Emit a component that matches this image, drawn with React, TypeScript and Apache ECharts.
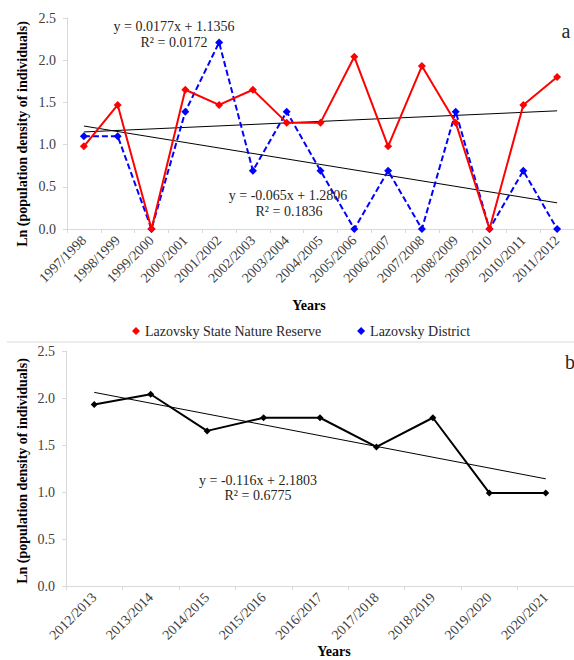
import React, { useEffect, useRef } from "react";
import * as echarts from "echarts";

const yearsA = [
  "1997/1998", "1998/1999", "1999/2000", "2000/2001", "2001/2002",
  "2002/2003", "2003/2004", "2004/2005", "2005/2006", "2006/2007",
  "2007/2008", "2008/2009", "2009/2010", "2010/2011", "2011/2012",
];
const reserve = [0.98, 1.47, 0, 1.65, 1.47, 1.65, 1.26, 1.26, 2.04, 0.98, 1.93, 1.26, 0, 1.47, 1.8];
const district = [1.1, 1.1, 0, 1.39, 2.21, 0.69, 1.39, 0.69, 0, 0.69, 0, 1.39, 0, 0.69, 0];
const trendReserve = [1.15, 1.4];
const trendDistrict = [1.22, 0.31];

const yearsB = [
  "2012/2013", "2013/2014", "2014/2015", "2015/2016", "2016/2017",
  "2017/2018", "2018/2019", "2019/2020", "2020/2021",
];
const densityB = [1.93, 2.04, 1.65, 1.79, 1.79, 1.48, 1.79, 0.99, 0.99];
const trendB = [2.06, 1.14];

const yTicks = [0, 0.5, 1, 1.5, 2, 2.5];

const FONT = '"Liberation Serif", "Times New Roman", serif';
const AXIS_GRAY = "#d9d9d9";
const LABEL = "#404040";

function makeY(gridIndex: number) {
  return {
    type: "value",
    gridIndex,
    min: yTicks[0],
    max: yTicks[yTicks.length - 1],
    interval: 0.5,
    axisLine: { show: true, lineStyle: { color: AXIS_GRAY, width: 1 } },
    axisTick: { show: true, length: 4, lineStyle: { color: AXIS_GRAY } },
    splitLine: { show: false },
    axisLabel: {
      fontFamily: FONT,
      fontSize: 14,
      color: LABEL,
      margin: 11,
      formatter: (v: number) => v.toFixed(1),
    },
  };
}

function makeX(gridIndex: number, data: string[]) {
  return {
    type: "category",
    gridIndex,
    data,
    boundaryGap: true,
    axisLine: { show: true, lineStyle: { color: AXIS_GRAY, width: 1 } },
    axisTick: { show: true, length: 4, alignWithLabel: false, lineStyle: { color: AXIS_GRAY } },
    splitLine: { show: false },
    axisLabel: {
      interval: 0,
      rotate: 45,
      fontFamily: FONT,
      fontSize: 14,
      color: LABEL,
      margin: 9,
    },
  };
}

function text(x: number, y: number, t: string, opts: any = {}) {
  return {
    type: "text",
    x,
    y,
    rotation: opts.rotation || 0,
    z: 100,
    style: {
      text: t,
      fontFamily: FONT,
      fontSize: opts.fontSize || 14,
      fontWeight: opts.fontWeight || "normal",
      fill: opts.fill || "#262626",
      align: opts.align || "center",
      verticalAlign: "middle",
    },
  };
}

export default function App() {
  const ref = useRef<HTMLDivElement>(null);

  useEffect(() => {
    document.body.style.margin = "0";
    if (!ref.current) return;
    const chart = echarts.init(ref.current, undefined, { renderer: "svg" });
    const option: any = {
      animation: false,
      backgroundColor: "#ffffff",
      grid: [
        { left: 67, top: 18, height: 211, right: -13, containLabel: false },
        { left: 66, top: 351, height: 235, right: -16, containLabel: false },
      ],
      xAxis: [makeX(0, yearsA), makeX(1, yearsB)],
      yAxis: [makeY(0), makeY(1)],
      legend: {
        data: ["Lazovsky State Nature Reserve", "Lazovsky District"],
        left: 127,
        top: 319,
        icon: "diamond",
        itemWidth: 8,
        itemHeight: 8,
        itemGap: 36,
        textStyle: { fontFamily: FONT, fontSize: 14, color: "#262626" },
      },
      series: [
        {
          name: "trendReserve",
          type: "line",
          xAxisIndex: 0,
          yAxisIndex: 0,
          data: [[0, trendReserve[0]], [yearsA.length - 1, trendReserve[1]]],
          symbol: "none",
          lineStyle: { color: "#000", width: 1 },
          z: 1,
        },
        {
          name: "trendDistrict",
          type: "line",
          xAxisIndex: 0,
          yAxisIndex: 0,
          data: [[0, trendDistrict[0]], [yearsA.length - 1, trendDistrict[1]]],
          symbol: "none",
          lineStyle: { color: "#000", width: 1 },
          z: 1,
        },
        {
          name: "Lazovsky State Nature Reserve",
          type: "line",
          xAxisIndex: 0,
          yAxisIndex: 0,
          data: reserve,
          symbol: "diamond",
          symbolSize: 8,
          itemStyle: { color: "#ff0000" },
          lineStyle: { color: "#ff0000", width: 2 },
          z: 3,
        },
        {
          name: "Lazovsky District",
          type: "line",
          xAxisIndex: 0,
          yAxisIndex: 0,
          data: district,
          symbol: "diamond",
          symbolSize: 8,
          itemStyle: { color: "#0000ff" },
          lineStyle: { color: "#0000ff", width: 2, type: [6, 3] },
          z: 2,
        },
        {
          name: "trendB",
          type: "line",
          xAxisIndex: 1,
          yAxisIndex: 1,
          data: [[0, trendB[0]], [yearsB.length - 1, trendB[1]]],
          symbol: "none",
          lineStyle: { color: "#000", width: 1 },
          z: 1,
        },
        {
          name: "densityB",
          type: "line",
          xAxisIndex: 1,
          yAxisIndex: 1,
          data: densityB,
          symbol: "diamond",
          symbolSize: 7,
          itemStyle: { color: "#000" },
          lineStyle: { color: "#000", width: 2 },
          z: 3,
        },
      ],
      graphic: [
        {
          type: "line",
          shape: { x1: 7, y1: 342, x2: 574, y2: 342 },
          style: { stroke: AXIS_GRAY, lineWidth: 1 },
        },
        text(174, 26, "y = 0.0177x + 1.1356"),
        text(174, 42, "R² = 0.0172"),
        text(288, 195, "y = -0.065x + 1.2806"),
        text(289, 211, "R² = 0.1836"),
        text(258, 480, "y = -0.116x + 2.1803"),
        text(258, 495, "R² = 0.6775"),
        text(566, 31, "a", { fontSize: 20 }),
        text(570, 362, "b", { fontSize: 20 }),
        text(309, 305, "Years", { fontWeight: "bold", fill: "#000" }),
        text(334, 651, "Years", { fontWeight: "bold", fill: "#000" }),
        text(22, 134, "Ln (population density of individuals)", {
          fontWeight: "bold",
          fill: "#000",
          rotation: Math.PI / 2,
        }),
        text(22, 471, "Ln (population density of individuals)", {
          fontWeight: "bold",
          fill: "#000",
          rotation: Math.PI / 2,
        }),
      ],
    };
    chart.setOption(option);
    return () => chart.dispose();
  }, []);

  return <div ref={ref} style={{ width: 574, height: 660 }} />;
}
